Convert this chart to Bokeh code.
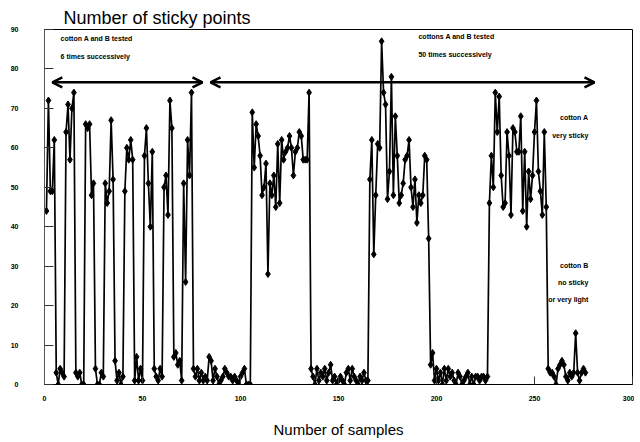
from bokeh.plotting import figure
from bokeh.models import ColumnDataSource, FixedTicker, Label, Arrow, OpenHead, Range1d, Title
from bokeh.embed import file_html
from bokeh.resources import INLINE

# --- data (number of sticky points per sample) ---
seg_alternating = [44, 72, 49, 49, 62, 3, 0, 4, 3, 2, 64, 71, 57, 70, 74, 3, 2, 3, 0, 0,
                   66, 65, 66, 48, 51, 4, 0, 0, 3, 2, 51, 46, 49, 67, 52, 6, 1, 3, 0, 2,
                   49, 60, 57, 62, 57, 1, 7, 1, 4, 1, 58, 65, 51, 40, 59, 4, 2, 1, 4, 2,
                   50, 53, 43, 72, 65, 7, 8, 5, 6, 1, 51, 26, 62, 53, 74]
low_b1 = [4, 2, 4, 1, 3, 1, 2, 1, 7, 6, 1, 4, 2, 0, 1, 2, 4, 3, 2, 2, 1, 2, 1, 0, 2, 3, 4, 0, 0, 0]
high_a1 = [69, 55, 66, 63, 58, 48, 50, 56, 28, 51, 48, 53, 45, 61, 46, 62, 57, 59, 60, 63,
           60, 53, 59, 60, 64, 63, 57, 57, 57, 74]
low_b2 = [4, 2, 0, 4, 1, 3, 2, 4, 1, 3, 5, 1, 2, 0, 1, 2, 1, 0, 3, 4, 1, 4, 2, 1, 0, 2, 1, 3, 1, 1]
high_a2 = [52, 62, 33, 48, 61, 60, 87, 74, 71, 47, 54, 78, 48, 68, 58, 46, 48, 51, 57, 58,
           62, 50, 45, 52, 41, 48, 46, 48, 58, 57, 37]
low_b3 = [5, 8, 1, 4, 1, 3, 0, 4, 1, 4, 2, 3, 1, 0, 3, 2, 0, 1, 2, 3, 0, 2, 0, 2, 2, 1, 2, 2, 1, 2]
high_a3 = [46, 58, 50, 74, 64, 73, 53, 45, 46, 64, 58, 43, 65, 64, 59, 59, 68, 44, 59, 40,
           54, 47, 53, 64, 72, 54, 49, 43, 64, 45]
low_b4 = [4, 3, 3, 2, 0, 4, 5, 6, 5, 2, 1, 3, 2, 3, 13, 3, 1, 3, 4, 3]

x_ticks = [0, 50, 100, 150, 200, 250, 300]
y_ticks = [0, 10, 20, 30, 40, 50, 60, 70, 80, 90]

values = seg_alternating + low_b1 + high_a1 + low_b2 + high_a2 + low_b3 + high_a3 + low_b4
samples = list(range(1, len(values) + 1))
src = ColumnDataSource(data=dict(x=samples, y=values))

FONT = "Liberation Sans"

p = figure(width=634, height=440, output_backend="svg", toolbar_location=None,
           x_range=Range1d(0, 300), y_range=Range1d(0, 90), title=None,
           min_border_left=44, min_border_right=2, min_border_top=29, min_border_bottom=55)
p.background_fill_color = "white"
p.border_fill_color = "white"
p.outline_line_color = "black"
p.outline_line_width = 1
p.grid.visible = False

p.line("x", "y", source=src, line_color="black", line_width=1.7)
p.scatter("x", "y", source=src, marker="diamond", size=7, fill_color="black", line_color="black")

for ax in (p.xaxis[0], p.yaxis[0]):
    ax.major_tick_out = 0
    ax.minor_tick_line_color = None
    ax.major_label_text_font = FONT
    ax.major_label_text_font_style = "bold"
    ax.major_label_text_font_size = "7px"
    ax.major_label_text_color = "black"
    ax.axis_line_color = "black"
    ax.major_tick_line_color = "#333333"

p.xaxis.ticker = FixedTicker(ticks=x_ticks)
p.xaxis.major_tick_in = 8
p.xaxis.major_label_standoff = 11
p.xaxis.axis_label = "Number of samples"
p.xaxis.axis_label_text_font = FONT
p.xaxis.axis_label_text_font_style = "normal"
p.xaxis.axis_label_text_font_size = "15px"
p.xaxis.axis_label_text_color = "black"
p.xaxis.axis_label_standoff = 17
p.yaxis.ticker = FixedTicker(ticks=y_ticks)
p.yaxis.major_tick_in = 9
p.yaxis.major_label_standoff = 26
p.yaxis.axis_line_color = "#555555"

p.add_layout(Title(text="Number of sticky points", align="left", offset=19,
                   text_font=FONT, text_font_size="18px", text_font_style="normal",
                   text_color="black", standoff=3), "above")

# arrows
for xs, xe in ((4, 80.6), (84.7, 280.6)):
    p.add_layout(Arrow(start=OpenHead(size=10, line_width=2.5, line_color="black"),
                       end=OpenHead(size=10, line_width=2.5, line_color="black"),
                       x_start=xs, y_start=76.6, x_end=xe, y_end=76.6,
                       line_width=2.5, line_color="black"))

notes = [
    (8.2, 87.7, "cotton A and B tested", "left"),
    (8.2, 83.2, "6 times successively", "left"),
    (190.8, 88.2, "cottons A and B tested", "left"),
    (190.8, 83.7, "50 times successively", "left"),
    (277.5, 67.7, "cotton A", "right"),
    (277.5, 63.2, "very sticky", "right"),
    (277.5, 30.1, "cotton B", "right"),
    (277.5, 25.8, "no sticky", "right"),
    (277.5, 21.5, "or very light", "right"),
]
for x, y, t, al in notes:
    p.add_layout(Label(x=x, y=y, text=t, text_font=FONT, text_font_style="bold",
                       text_font_size="7px", text_baseline="middle", text_align=al,
                       text_color="black"))

open("out.html", "w").write(file_html(p, INLINE))
